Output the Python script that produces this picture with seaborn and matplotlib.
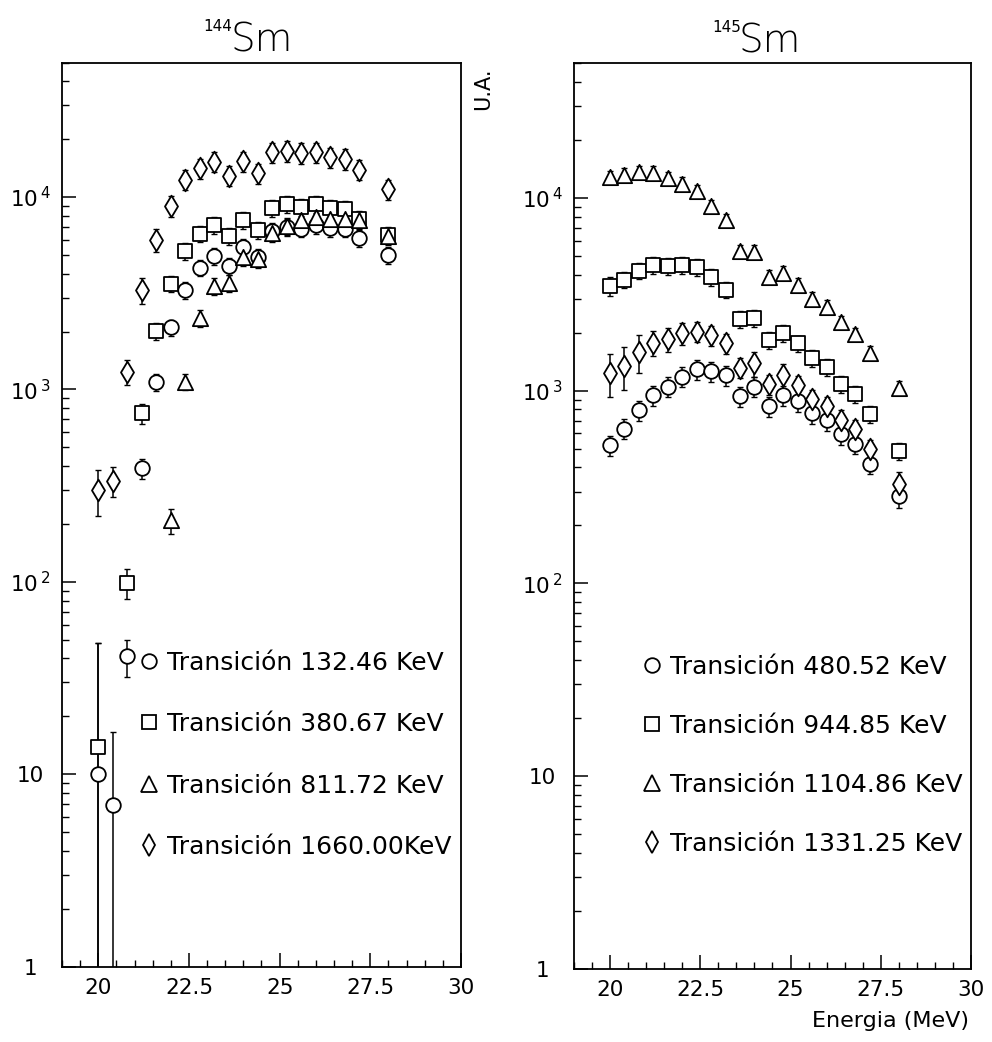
import numpy as np
import pandas as pd
import matplotlib
matplotlib.use("Agg")
import matplotlib.pyplot as plt
import seaborn as sns
from matplotlib.lines import Line2D
from matplotlib.ticker import LogLocator, FixedLocator, MultipleLocator, FuncFormatter, NullFormatter

# ---------------- data ----------------
energy = [20.0, 20.4, 20.8, 21.2, 21.6, 22.0, 22.4, 22.8, 23.2, 23.6,
          24.0, 24.4, 24.8, 25.2, 25.6, 26.0, 26.4, 26.8, 27.2, 28.0]
nan = np.nan

# 144Sm
sm144_c = [10, 6.9, 41, 390, 1090, 2100, 3290, 4300, 4950, 4380,
           5510, 4890, 6640, 7000, 6860, 7130, 6910, 6860, 6140, 4990]
sm144_s = [13.8, nan, 99, 754, 2015, 3555, 5250, 6460, 7130, 6250,
           7630, 6720, 8770, 9230, 8870, 9230, 8770, 8700, 7720, 6330]
sm144_t = [nan, nan, nan, nan, nan, 209, 1100, 2360, 3445, 3585,
           4890, 4755, 6530, 7100, 7570, 7880, 7720, 7720, 7570, 6255]
sm144_d = [300, 336, 1240, 3290, 6010, 9020, 12300, 14130, 15300, 12950,
           15370, 13300, 17100, 17380, 16980, 17100, 16100, 15790, 13910, 10960]
# relative errors
sm144_c_err = [3.8, 1.4, 0.22, 0.12, 0.10, 0.10, 0.10, 0.10, 0.10, 0.10,
               0.10, 0.10, 0.10, 0.10, 0.10, 0.10, 0.10, 0.10, 0.10, 0.10]
sm144_s_err = [2.5, nan, 0.18, 0.12, 0.10, 0.10, 0.10, 0.10, 0.10, 0.10,
               0.10, 0.10, 0.10, 0.10, 0.10, 0.10, 0.10, 0.10, 0.10, 0.10]
sm144_t_err = [nan, nan, nan, nan, nan, 0.15, 0.10, 0.10, 0.10, 0.10,
               0.10, 0.10, 0.10, 0.10, 0.10, 0.10, 0.10, 0.10, 0.10, 0.10]
sm144_d_err = [0.27, 0.18, 0.15, 0.15, 0.14, 0.13, 0.12, 0.12, 0.12, 0.12,
               0.12, 0.12, 0.12, 0.12, 0.12, 0.12, 0.12, 0.12, 0.12, 0.12]

# 145Sm
sm145_c = [521, 635, 794, 946, 1050, 1182, 1289, 1265, 1200, 938,
           1050, 833, 946, 885, 763, 705, 594, 531, 419, 285]
sm145_s = [3487, 3775, 4200, 4480, 4425, 4480, 4375, 3884, 3350, 2360,
           2390, 1832, 1982, 1758, 1483, 1327, 1078, 957, 754, 487]
sm145_t = [12850, 13210, 13640, 13490, 12700, 11860, 10830, 9060, 7660, 5295,
           5250, 3897, 4085, 3555, 2998, 2724, 2270, 1958, 1573, 1037]
sm145_d = [1240, 1343, 1586, 1773, 1845, 1982, 2023, 1935, 1758, 1316,
           1385, 1078, 1200, 1066, 901, 833, 705, 630, 497, 330]
sm145_c_err = [0.12, 0.12, 0.12, 0.12, 0.12, 0.12, 0.12, 0.12, 0.12, 0.12,
               0.12, 0.12, 0.12, 0.12, 0.12, 0.12, 0.12, 0.12, 0.12, 0.14]
sm145_s_err = [0.11, 0.10, 0.10, 0.10, 0.10, 0.10, 0.10, 0.10, 0.10, 0.10,
               0.10, 0.10, 0.10, 0.10, 0.10, 0.10, 0.10, 0.10, 0.10, 0.10]
sm145_t_err = [0.08, 0.08, 0.08, 0.08, 0.08, 0.08, 0.08, 0.08, 0.08, 0.08,
               0.08, 0.08, 0.08, 0.08, 0.08, 0.08, 0.08, 0.08, 0.08, 0.08]
sm145_d_err = [0.25, 0.25, 0.22, 0.15, 0.14, 0.13, 0.12, 0.12, 0.12, 0.12,
               0.15, 0.12, 0.15, 0.12, 0.12, 0.12, 0.12, 0.12, 0.12, 0.15]

labels_144 = ["Transición 132.46 KeV", "Transición 380.67 KeV",
              "Transición 811.72 KeV", "Transición 1660.00KeV"]
labels_145 = ["Transición 480.52 KeV", "Transición 944.85 KeV",
              "Transición 1104.86 KeV", "Transición 1331.25 KeV"]
ytick_vals = [1, 10, 100, 1000, 10000]
ytick_text = ["1", "10", r"$10^{\,2}$", r"$10^{\,3}$", r"$10^{\,4}$"]
xtick_vals = [20, 22.5, 25, 27.5, 30]

# marker styles
markers = ["o", "s", "^", "d"]
msizes = [10.5, 9.5, 11, 11]

# ---------------- figure ----------------
sns.set_theme(style="ticks")
plt.rcParams["font.family"] = ["DejaVu Sans"]
plt.rcParams["mathtext.fontset"] = "dejavusans"
for k in ["text.color", "axes.labelcolor", "xtick.color", "ytick.color",
          "axes.edgecolor"]:
    plt.rcParams[k] = "black"

fig = plt.figure(figsize=(9.92, 10.42), dpi=100)
ax1 = fig.add_axes([0.0625, 0.0723, 0.4022, 0.8676])
ax2 = fig.add_axes([0.5786, 0.0701, 0.4002, 0.8692])


def draw(ax, vals_list, errs_list, labels, leg_xy, spacing):
    ax.set_yscale("log")
    for vals, errs, m, ms in zip(vals_list, errs_list, markers, msizes):
        df = pd.DataFrame({"E": energy, "y": vals, "r": errs}).dropna()
        ax.errorbar(df["E"], df["y"], yerr=df["y"] * df["r"], fmt="none",
                    ecolor="black", elinewidth=1.1, capsize=2, capthick=1,
                    zorder=2)
        sns.scatterplot(data=df, x="E", y="y", marker=m, s=ms ** 2,
                        color="white", edgecolor="black", linewidth=1.3,
                        ax=ax, zorder=3, legend=False)
    ax.set_xlim(19, 30)
    ax.set_ylim(1, 5e4)
    ax.set_xlabel("")
    ax.set_ylabel("")
    ax.yaxis.set_major_locator(FixedLocator(ytick_vals))
    ax.yaxis.set_major_formatter(FuncFormatter(
        lambda v, p: dict(zip(ytick_vals, ytick_text)).get(round(v), "")))
    ax.yaxis.set_minor_locator(LogLocator(base=10, subs=np.arange(2, 10)))
    ax.yaxis.set_minor_formatter(NullFormatter())
    ax.xaxis.set_major_locator(FixedLocator(xtick_vals))
    ax.xaxis.set_major_formatter(FuncFormatter(lambda v, p: f"{v:g}"))
    ax.xaxis.set_minor_locator(MultipleLocator(0.5))
    ax.tick_params(axis="both", which="major", direction="in", length=10,
                   width=1.1, labelsize=15.5, colors="black")
    ax.tick_params(axis="both", which="minor", direction="in", length=5,
                   width=1.0, colors="black")
    ax.tick_params(axis="y", which="major", pad=23)
    ax.tick_params(axis="x", which="major", pad=8)
    for lab in ax.get_yticklabels():
        lab.set_horizontalalignment("center")
    for sp in ax.spines.values():
        sp.set_visible(True)
        sp.set_linewidth(1.3)
        sp.set_color("black")
    ax.set_facecolor("white")
    handles = [Line2D([], [], marker=m, linestyle="none", markersize=ms,
                      markerfacecolor="white", markeredgecolor="black",
                      markeredgewidth=1.3)
               for m, ms in zip(markers, msizes)]
    leg = ax.legend(handles, labels, loc="upper left", bbox_to_anchor=leg_xy,
                    frameon=False, fontsize=18, handlelength=0.8,
                    handletextpad=0.3, labelspacing=spacing, borderpad=0,
                    borderaxespad=0)
    for t in leg.get_texts():
        t.set_color("black")


draw(ax1, [sm144_c, sm144_s, sm144_t, sm144_d],
     [sm144_c_err, sm144_s_err, sm144_t_err, sm144_d_err],
     labels_144, (0.194, 0.3495), 1.5)
draw(ax2, [sm145_c, sm145_s, sm145_t, sm145_d],
     [sm145_c_err, sm145_s_err, sm145_t_err, sm145_d_err],
     labels_145, (0.1725, 0.3465), 1.4)

# titles
ax1.text(0.5, 1.012, "Sm", transform=ax1.transAxes, ha="center",
         va="baseline", fontsize=28, fontweight="light", color="black")
ax1.text(0.427, 1.048, "144", transform=ax1.transAxes, ha="right",
         va="top", fontsize=11, color="black")
ax2.text(0.492, 1.012, "Sm", transform=ax2.transAxes, ha="center",
         va="baseline", fontsize=28, fontweight="light", color="black")
ax2.text(0.42, 1.048, "145", transform=ax2.transAxes, ha="right",
         va="top", fontsize=11, color="black")

fig.text(0.487, 0.9146, "U.A.", rotation=90, ha="center", va="center",
         fontsize=15, color="black")
ax2.text(0.995, -0.058, "Energia (MeV)", transform=ax2.transAxes,
         ha="right", va="center", fontsize=16, color="black")

fig.savefig("out.png", dpi=100, facecolor="white")
